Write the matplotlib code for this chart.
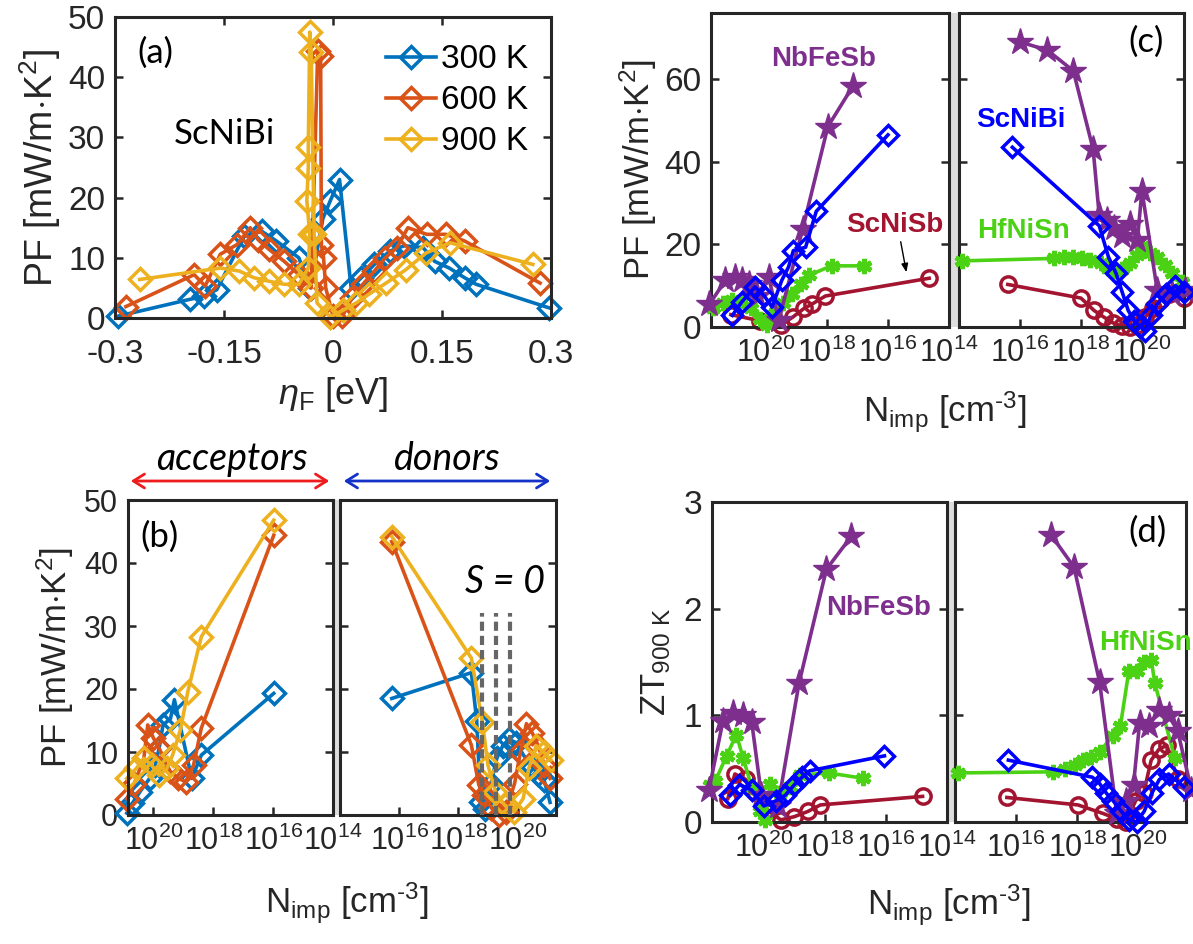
import matplotlib.pyplot as plt
import numpy as np
from matplotlib.patches import Rectangle, FancyArrowPatch
from matplotlib.ticker import NullLocator

plt.rcParams['font.family'] = ['Liberation Sans', 'DejaVu Sans']
plt.rcParams['mathtext.fontset'] = 'custom'
plt.rcParams['mathtext.rm'] = 'Liberation Sans'
plt.rcParams['mathtext.it'] = 'Liberation Sans:italic'
plt.rcParams['mathtext.bf'] = 'Liberation Sans:bold'

# ---- (a) PF vs eta_F for ScNiBi
temps = ['300 K', '600 K', '900 K']
t_colors = ['#0072BD', '#D95319', '#EDB120']
eta_300 = [-0.296, -0.197, -0.178, -0.16, -0.122, -0.098, -0.078, -0.047, -0.031, -0.014, -0.004, 0.009,
           0.025, 0.039, 0.057, 0.078, 0.098, 0.124, 0.14, 0.16, 0.181, 0.197, 0.297]
pf_300 = [0.3, 3.1, 3.6, 4.7, 13.6, 14.4, 12.8, 10.0, 5.0, 16.5, 19.4, 23.0,
          5.0, 6.7, 8.9, 11.1, 12.0, 11.7, 9.4, 8.3, 6.7, 5.6, 1.7]
eta_600 = [-0.285, -0.191, -0.176, -0.155, -0.132, -0.114, -0.103, -0.088, -0.067, -0.047, -0.03, -0.021,
           -0.017, -0.016, -0.013, -0.010, 0.0, 0.013, 0.026, 0.041, 0.057, 0.072, 0.088, 0.103, 0.129,
           0.155, 0.181, 0.285]
pf_600 = [1.9, 7.2, 5.3, 10.6, 12.2, 15.0, 13.0, 11.4, 9.4, 7.2, 5.0, 44.4,
          43.6, 12.2, 10.0, 5.0, 0.3, 0.3, 3.3, 5.6, 7.8, 10.0, 11.7, 15.0, 13.9,
          13.9, 12.8, 5.8]
eta_900 = [-0.266, -0.155, -0.129, -0.109, -0.088, -0.067, -0.047, -0.034, -0.032, -0.036, -0.034, -0.034,
           -0.032, -0.030, -0.026, -0.022, -0.004, 0.014, 0.032, 0.05, 0.073, 0.1, 0.128, 0.161, 0.275]
pf_900 = [6.4, 8.3, 7.8, 6.7, 6.1, 5.6, 5.6, 8.3, 13.9, 19.5, 25.0, 28.4,
          47.5, 44.2, 14.0, 2.5, 0.2, 1.3, 2.5, 4.0, 5.8, 8.0, 10.8, 12.5, 8.9]

# ---- (b) PF vs log10(N_imp), acceptors (left) / donors (right)
accN_300 = [20.89, 20.7, 20.45, 20.13, 19.94, 19.81, 19.68, 19.43, 19.3, 18.72, 18.4, 15.98]
accPF_300 = [0.3, 1.9, 3.7, 5.8, 7.9, 10.6, 14.3, 15.3, 18.3, 5.8, 9.5, 19.3]
accN_600 = [20.89, 20.64, 20.32, 20.19, 20.0, 19.81, 19.45, 19.17, 18.92, 18.66, 18.4, 15.98]
accPF_600 = [2.6, 5.0, 9.0, 14.3, 12.2, 10.6, 7.0, 5.8, 5.3, 7.9, 13.8, 44.4]
accN_900 = [20.89, 20.57, 20.32, 20.06, 19.81, 19.55, 19.36, 19.1, 18.85, 18.4, 15.98]
accPF_900 = [5.8, 7.4, 9.0, 7.9, 6.3, 7.4, 9.5, 13.5, 19.6, 28.3, 46.8]
donN_300 = [15.75, 18.44, 18.62, 18.75, 18.9, 19.1, 19.3, 19.5, 19.7, 19.95, 20.2, 20.45, 20.7, 20.9, 21.1]
donPF_300 = [18.5, 22.6, 15.0, 2.0, 1.0, 5.0, 9.0, 11.0, 12.0, 11.5, 9.5, 8.0, 6.5, 5.5, 2.0]
donN_600 = [15.75, 18.44, 18.69, 18.87, 19.12, 19.37, 19.6, 19.9, 20.1, 20.3, 20.5, 20.7, 20.9, 21.1]
donPF_600 = [43.4, 11.1, 4.8, 3.2, 1.1, 0.0, 0.5, 5.0, 10.0, 14.5, 13.0, 11.0, 8.0, 5.8]
donN_900 = [15.75, 18.44, 18.81, 19.0, 19.25, 19.56, 19.88, 20.19, 20.38, 20.63, 20.88, 21.13]
donPF_900 = [44.2, 24.9, 14.8, 7.9, 3.7, 1.6, 0.5, 2.6, 7.4, 11.0, 10.0, 8.7]
s0_N = [18.79, 19.28, 19.75]

# ---- (c) PF at 900 K for four compounds
mats = ['NbFeSb', 'ScNiBi', 'ScNiSb', 'HfNiSn']
m_colors = ['#7E2F8E', '#0000FF', '#A2142F', '#4CD214']
nbfesb_accN = [21.85, 21.33, 21.0, 20.79, 20.57, 20.3, 19.91, 19.58, 18.8, 17.97, 17.15]
nbfesb_accPF = [5.5, 11.3, 12.1, 11.3, 10.5, 7.5, 12.1, 1.6, 23.6, 48.5, 58.3]
nbfesb_donN = [16.0, 16.9, 17.75, 18.4, 18.6, 18.85, 19.1, 19.35, 19.6, 19.85, 20.0, 20.5, 21.0, 21.4]
nbfesb_donPF = [69.0, 67.0, 62.0, 43.0, 27.0, 26.0, 24.0, 22.0, 25.0, 21.0, 33.0, 9.0, 8.0, 9.0]
scnibi_accN = [21.1, 20.8, 20.36, 20.05, 19.8, 19.48, 19.26, 19.1, 18.7, 18.35, 16.0]
scnibi_accPF = [2.8, 6.0, 9.7, 7.5, 4.8, 11.3, 14.5, 18.5, 19.3, 28.0, 46.5]
scnibi_donN = [15.75, 18.6, 18.9, 19.15, 19.35, 19.55, 19.75, 19.95, 20.1, 20.3, 20.5, 20.8, 21.1, 21.38]
scnibi_donPF = [43.5, 24.5, 17.0, 13.0, 8.5, 4.0, 1.5, 0.0, -1.0, 3.0, 5.5, 8.0, 10.0, 8.5]
scnisb_accN = [21.15, 20.2, 19.5, 19.1, 18.75, 18.5, 18.05, 14.65]
scnisb_accPF = [3.0, 1.5, 0.5, 2.5, 4.5, 5.5, 7.5, 11.8]
scnisb_donN = [15.6, 18.0, 18.43, 18.75, 19.05, 19.35, 19.6, 19.85, 20.1, 20.35, 20.6, 20.9, 21.38]
scnisb_donPF = [10.3, 7.0, 4.0, 2.4, 1.0, 0.2, 0.0, 0.6, 2.3, 4.7, 6.5, 8.0, 7.0]
hfnisn_accN = [21.75, 21.4, 21.1, 20.8, 20.5, 20.2, 19.95, 19.7, 19.45, 19.15, 18.85, 18.6, 17.85, 16.8]
hfnisn_accPF = [4.5, 5.8, 6.5, 6.2, 4.5, 2.0, 0.5, 3.3, 5.7, 8.1, 10.5, 12.5, 14.8, 14.8]
hfnisn_donN = [14.1, 17.1, 17.45, 17.75, 18.05, 18.3, 18.65, 18.9, 19.1, 19.35, 19.6, 19.85, 20.0,
               20.25, 20.5, 20.75, 21.0, 21.3]
hfnisn_donPF = [16.0, 16.6, 17.0, 16.9, 16.6, 16.1, 15.4, 14.2, 13.5, 14.0, 15.5, 17.5, 19.5,
                18.0, 17.0, 15.0, 13.0, 11.0]

# ---- (d) ZT at 900 K
nbfesb_accZT_N = [21.8, 21.34, 21.0, 20.7, 20.4, 20.08, 19.54, 18.85, 17.95, 17.13]
nbfesb_accZT = [0.3, 0.95, 1.02, 1.0, 0.94, 0.25, 0.15, 1.3, 2.37, 2.68]
nbfesb_donZT_N = [17.15, 17.9, 18.74, 19.3, 19.6, 19.85, 20.05, 20.35, 20.7, 21.0, 21.3, 21.75]
nbfesb_donZT = [2.69, 2.39, 1.31, 0.08, 0.2, 0.35, 0.93, 0.9, 1.05, 1.0, 0.85, 0.3]
scnibi_accZT_N = [21.1, 20.8, 20.4, 20.0, 19.6, 19.3, 19.0, 18.75, 18.5, 16.05]
scnibi_accZT = [0.25, 0.35, 0.3, 0.15, 0.2, 0.25, 0.35, 0.42, 0.48, 0.62]
scnibi_donZT_N = [15.75, 18.5, 18.74, 18.96, 19.18, 19.45, 19.7, 19.95, 20.2, 20.45, 20.7, 21.0, 21.5]
scnibi_donZT = [0.58, 0.42, 0.36, 0.27, 0.2, 0.1, 0.02, 0.0, 0.1, 0.27, 0.4, 0.45, 0.33]
scnisb_accZT_N = [21.18, 20.95, 20.6, 20.3, 19.9, 19.45, 19.0, 18.55, 18.15, 14.8]
scnisb_accZT = [0.22, 0.45, 0.4, 0.28, 0.12, 0.02, 0.05, 0.1, 0.16, 0.24]
scnisb_donZT_N = [15.7, 18.03, 18.85, 19.3, 19.6, 19.92, 20.18, 20.43, 20.68, 20.94, 21.3]
scnisb_donZT = [0.23, 0.16, 0.08, 0.03, 0.0, 0.2, 0.27, 0.58, 0.68, 0.72, 0.4]
hfnisn_accZT_N = [21.75, 21.6, 21.22, 20.9, 20.68, 20.4, 20.13, 19.95, 19.8, 19.48, 19.15, 18.82, 17.88, 16.75]
hfnisn_accZT = [0.35, 0.38, 0.62, 0.82, 0.6, 0.33, 0.1, 0.02, 0.36, 0.27, 0.33, 0.44, 0.46, 0.41]
hfnisn_donZT_N = [14.1, 17.2, 17.6, 17.92, 18.2, 18.47, 18.74, 19.18, 19.42, 19.7, 19.95, 20.2, 20.43, 20.55, 21.2]
hfnisn_donZT = [0.46, 0.47, 0.5, 0.53, 0.58, 0.61, 0.66, 0.81, 0.9, 1.42, 1.42, 1.5, 1.52, 1.3, 0.6]

W, H = 1193, 944
fig = plt.figure(figsize=(W / 100, H / 100), dpi=100)
AX_C = '#262626'


def px_rect(x0, x1, y0, y1):
    # pixel box (top-left origin) -> figure fraction rect
    return [x0 / W, 1 - y1 / H, (x1 - x0) / W, (y1 - y0) / H]


def style(ax, top=True, size=24):
    for s in ax.spines.values():
        s.set_linewidth(2.2)
        s.set_color(AX_C)
    ax.tick_params(direction='in', length=6, width=1.8, labelsize=size, colors=AX_C,
                   top=top, right=True)
    ax.tick_params(axis='x', pad=9)
    ax.tick_params(axis='y', pad=7)


PF_LABEL = r'PF [mW/m$\cdot$K$^{2}$]'
N_LABEL = r'N$_{\rm imp}$ [cm$^{\text{-3}}$]'

# ================= (a)
ax = fig.add_axes(px_rect(115, 551, 17, 318))
style(ax)
ax.tick_params(axis='x', pad=15)
for e, p, c, lab in zip([eta_300, eta_600, eta_900], [pf_300, pf_600, pf_900], t_colors, temps):
    ax.plot(e, p, '-D', color=c, lw=2.6, ms=11, mfc='none', mew=2.5, label=lab, clip_on=False)
ax.set_xlim(-0.3, 0.3)
ax.set_ylim(0, 50)
ax.set_xticks([-0.3, -0.15, 0, 0.15, 0.3])
ax.set_xticklabels(['-0.3', '-0.15', '0', '0.15', '0.3'])
ax.set_yticks([0, 10, 20, 30, 40, 50])
ax.set_ylabel(PF_LABEL, fontsize=27, color=AX_C, labelpad=4)
fig.text(333 / W, 1 - 395 / H, r'$\eta_{\rm F}$ [eV]', fontsize=26, color=AX_C, ha='center', va='center')
ax.text(-0.245, 44, '(a)', fontsize=25, family='Lato', ha='center', va='center')
ax.text(-0.15, 30.5, 'ScNiBi', fontsize=25, family='Lato', ha='center', va='center')
ax.legend(loc='upper right', bbox_to_anchor=(0.985, 0.965), frameon=False, fontsize=24,
          handlelength=1.5, handletextpad=0.15, labelspacing=0.3, borderaxespad=0.1)


def split_pair(rl, rr, llim, rlim, ylim, yticks, ysize):
    axl = fig.add_axes(px_rect(*rl))
    axr = fig.add_axes(px_rect(*rr))
    for a in (axl, axr):
        a.set_xscale('log')
        style(a, top=False, size=ysize)
        a.tick_params(axis='x', labelsize=22, pad=8)
        a.set_ylim(*ylim)
        a.set_yticks(yticks)
        a.xaxis.set_minor_locator(NullLocator())
    axl.set_xlim(10 ** llim[0], 10 ** llim[1])
    axr.set_xlim(10 ** rlim[0], 10 ** rlim[1])
    axl.set_xticks([1e20, 1e18, 1e16, 1e14])
    axl.set_xticklabels([r'$10^{20}$', r'$10^{18}$', r'$10^{16}$', r'$10^{14}$'])
    axr.set_xticks([1e16, 1e18, 1e20])
    axr.set_xticklabels([r'$10^{16}$', r'$10^{18}$', r'$10^{20}$'])
    axr.tick_params(labelleft=False)
    # gap between the two halves
    fig.add_artist(Rectangle((rl[1] / W, 1 - rl[3] / H), (rr[0] - rl[1]) / W, (rl[3] - rl[2]) / H,
                             transform=fig.transFigure, facecolor='#DDDDDD', edgecolor='none', zorder=-1))
    return axl, axr


# ================= (b)
bl, br = split_pair((128, 333, 500, 815), (340, 556, 500, 815), (20.85, 14), (14, 21.3), (0, 50),
                    [0, 10, 20, 30, 40, 50], 22)
for n, p, c in zip([accN_300, accN_600, accN_900], [accPF_300, accPF_600, accPF_900], t_colors):
    bl.plot(10 ** np.array(n), p, '-D', color=c, lw=2.6, ms=11, mfc='none', mew=2.5, clip_on=False)
for n, p, c in zip([donN_300, donN_600, donN_900], [donPF_300, donPF_600, donPF_900], t_colors):
    br.plot(10 ** np.array(n), p, '-D', color=c, lw=2.6, ms=11, mfc='none', mew=2.5, clip_on=False)
for s in s0_N:
    br.plot([10 ** s, 10 ** s], [0, 32], color='#666666', lw=3, ls=(0, (2.2, 1.2)), zorder=5)
bl.set_ylabel(PF_LABEL, fontsize=25, color=AX_C, labelpad=6)
bl.text(10 ** 19.8, 44.2, '(b)', fontsize=25, family='Lato', ha='center', va='center')
br.text(10 ** 19.57, 37, 'S = 0', fontsize=27, family='Lato', style='italic', ha='center', va='center')
fig.text(347 / W, 1 - 903 / H, N_LABEL, fontsize=25, color=AX_C, ha='center', va='center')

# acceptors / donors arrows
fig.add_artist(FancyArrowPatch((128 / W, 1 - 481 / H), (332 / W, 1 - 481 / H), transform=fig.transFigure,
                               arrowstyle='<->,head_length=8,head_width=5', color='#EE1C1C', lw=2))
fig.add_artist(FancyArrowPatch((341 / W, 1 - 481 / H), (553 / W, 1 - 481 / H), transform=fig.transFigure,
                               arrowstyle='<->,head_length=8,head_width=5', color='#1432C8', lw=2))
fig.text(232 / W, 1 - 459 / H, 'acceptors', fontsize=27, family='Lato', style='italic', ha='center', va='center')
fig.text(447 / W, 1 - 459 / H, 'donors', fontsize=27, family='Lato', style='italic', ha='center', va='center')

# ================= (c)
cl, cr = split_pair((711, 949, 13, 327), (959, 1184, 13, 327), (21.8, 14), (14, 21.38), (0, 76),
                    [0, 20, 40, 60], 24)
c_acc = [(nbfesb_accN, nbfesb_accPF), (scnibi_accN, scnibi_accPF), (scnisb_accN, scnisb_accPF),
         (hfnisn_accN, hfnisn_accPF)]
c_don = [(nbfesb_donN, nbfesb_donPF), (scnibi_donN, scnibi_donPF), (scnisb_donN, scnisb_donPF),
         (hfnisn_donN, hfnisn_donPF)]
d_acc = [(nbfesb_accZT_N, nbfesb_accZT), (scnibi_accZT_N, scnibi_accZT), (scnisb_accZT_N, scnisb_accZT),
         (hfnisn_accZT_N, hfnisn_accZT)]
d_don = [(nbfesb_donZT_N, nbfesb_donZT), (scnibi_donZT_N, scnibi_donZT), (scnisb_donZT_N, scnisb_donZT),
         (hfnisn_donZT_N, hfnisn_donZT)]
m_styles = [dict(marker='*', ms=20, mfc=m_colors[0], mec=m_colors[0], mew=1, zorder=3),
            dict(marker='D', ms=10, mfc='none', mec=m_colors[1], mew=2.5, zorder=4),
            dict(marker='o', ms=11, mfc='none', mec=m_colors[2], mew=2.5, zorder=2),
            dict(marker=(6, 2, 0), ms=11, mfc=m_colors[3], mec=m_colors[3], mew=3.5, zorder=3)]


def draw_mats(ax, sets):
    # stacking order close to the original
    for i in [2, 3, 0, 1]:
        n, v = sets[i]
        ax.plot(10 ** np.array(n), v, '-', color=m_colors[i], lw=2.6, clip_on=False, **m_styles[i])


draw_mats(cl, c_acc)
draw_mats(cr, c_don)
cl.set_ylabel(PF_LABEL, fontsize=25, color=AX_C, labelpad=4)
cl.text(10 ** 18.1, 64.8, 'NbFeSb', fontsize=20, fontweight='bold', color=m_colors[0], ha='center', va='center')
cl.text(10 ** 15.77, 24.8, 'ScNiSb', fontsize=20, fontweight='bold', color=m_colors[2], ha='center', va='center')
cl.annotate('', xy=(10 ** 15.38, 12.6), xytext=(10 ** 15.6, 21.3),
            arrowprops=dict(arrowstyle='-|>,head_length=0.5,head_width=0.2', color='black', lw=1))
cr.text(10 ** 16.03, 50.2, 'ScNiBi', fontsize=20, fontweight='bold', color=m_colors[1], ha='center', va='center')
cr.text(10 ** 16.1, 23.3, 'HfNiSn', fontsize=20, fontweight='bold', color=m_colors[3], ha='center', va='center')
cr.text(10 ** 20.13, 69, '(c)', fontsize=25, family='Lato', ha='center', va='center')
fig.text(945 / W, 1 - 412 / H, N_LABEL, fontsize=25, color=AX_C, ha='center', va='center')

# ================= (d)
dl, dr = split_pair((712, 947, 502, 822), (955, 1186, 502, 822), (21.7, 14), (14, 21.57), (0, 3),
                    [0, 1, 2, 3], 24)
draw_mats(dl, d_acc)
draw_mats(dr, d_don)
dl.set_ylabel(r'ZT$_{\rm 900\ K}$', fontsize=25, color=AX_C, labelpad=8)
dl.text(10 ** 16.24, 2.01, 'NbFeSb', fontsize=20, fontweight='bold', color=m_colors[0], ha='center', va='center')
dr.text(10 ** 20.25, 1.68, 'HfNiSn', fontsize=20, fontweight='bold', color=m_colors[3], ha='center', va='center')
dr.text(10 ** 20.3, 2.72, '(d)', fontsize=25, family='Lato', ha='center', va='center')
fig.text(949 / W, 1 - 905 / H, N_LABEL, fontsize=25, color=AX_C, ha='center', va='center')

fig.savefig('out.png', dpi=100)
